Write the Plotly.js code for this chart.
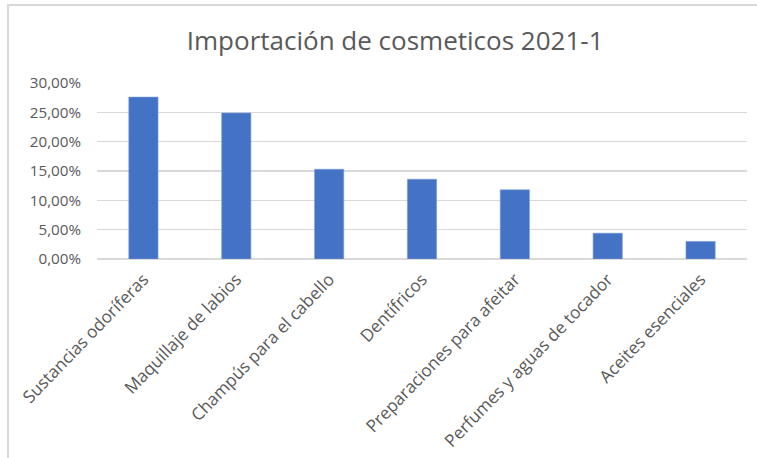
<!DOCTYPE html>
<html>
<head>
<meta charset="utf-8">
<script src="https://cdn.plot.ly/plotly-3.0.1.min.js"></script>
<style>
  html, body { margin: 0; padding: 0; background: #ffffff; }
  #wrap { position: relative; width: 757px; height: 458px; }
  #chart { position: absolute; left: 0; top: 0; width: 757px; height: 458px; }
  #frame { position: absolute; left: 7px; top: 4px; width: 760px; height: 470px;
           border-top: 2px solid #d9d9d9; border-left: 2px solid #d9d9d9; pointer-events: none; }
</style>
</head>
<body>
<div id="wrap">
  <div id="chart"></div>
  <div id="frame"></div>
</div>
<script>
const categories = [
  "Sustancias odoríferas",
  "Maquillaje de labios",
  "Champús para el cabello",
  "Dentífricos",
  "Preparaciones para afeitar",
  "Perfumes y aguas de tocador",
  "Aceites esenciales"
];
const shares = [0.276, 0.249, 0.153, 0.136, 0.118, 0.044, 0.030];
const yTicks = [0, 0.05, 0.10, 0.15, 0.20, 0.25, 0.30];
const chartTitle = "Importación de cosmeticos 2021-1";

const textColor = "#595959";
const fontFamily = "'Open Sans', 'Noto Sans', sans-serif";

const trace = {
  type: "bar",
  x: categories,
  y: shares,
  marker: { color: "#4472C4", line: { color: "#7f9fd8", width: 0.6 } },
  hoverinfo: "skip"
};

const layout = {
  width: 757,
  height: 458,
  margin: { l: 97, r: 10, t: 83, b: 199 },
  paper_bgcolor: "#ffffff",
  plot_bgcolor: "#ffffff",
  separators: ",.",
  showlegend: false,
  bargap: 0.685,
  title: {
    text: chartTitle,
    font: { family: fontFamily, size: 26, color: textColor },
    x: 0.522, xanchor: "center",
    y: 0.91, yanchor: "middle"
  },
  font: { family: fontFamily, color: textColor },
  xaxis: {
    type: "category",
    tickangle: -46,
    tickfont: { family: fontFamily, size: 17.2, color: textColor },
    showgrid: false,
    showline: false,
    ticks: "",
    ticklabelstandoff: 6,
    fixedrange: true
  },
  yaxis: {
    range: [0, 0.30],
    tickvals: yTicks,
    tickformat: ".2%",
    tickfont: { family: fontFamily, size: 15.2, color: textColor },
    showgrid: true,
    gridcolor: "#d9d9d9",
    gridwidth: 1.2,
    zeroline: true,
    zerolinecolor: "#d9d9d9",
    zerolinewidth: 1.2,
    showline: false,
    ticks: "",
    ticklabelstandoff: 15,
    fixedrange: true
  }
};

Plotly.newPlot("chart", [trace], layout, { displayModeBar: false, staticPlot: true });
</script>
</body>
</html>
